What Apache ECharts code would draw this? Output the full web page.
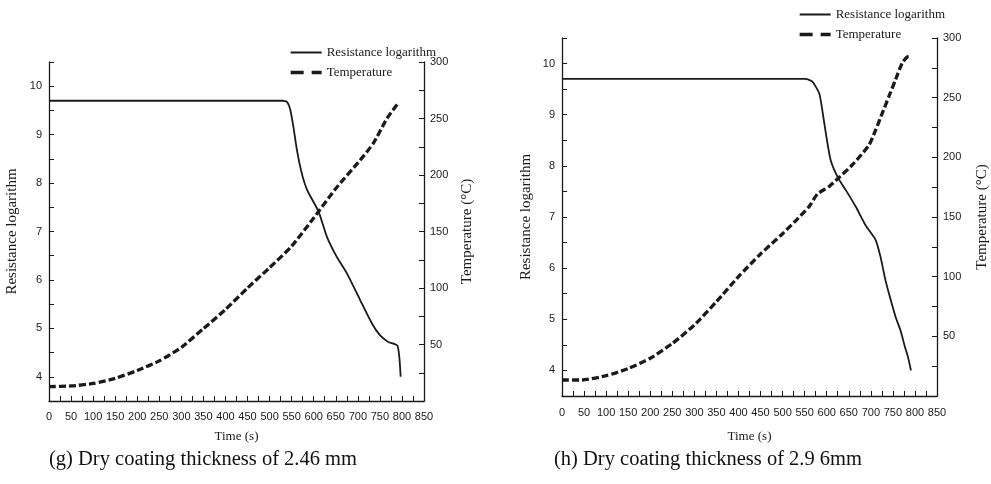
<!DOCTYPE html>
<html>
<head>
<meta charset="utf-8">
<script src="https://cdn.jsdelivr.net/npm/echarts@6/dist/echarts.min.js"></script>
<style>
html, body { margin: 0; padding: 0; background: #fff; }
#main { width: 991px; height: 484px; }
</style>
</head>
<body>
<div id="main"></div>
<script>
// (g) dry coating thickness 2.46 mm
var timeResG = [0, 530, 540, 547, 554, 562, 573, 585, 611, 630, 652, 675, 705, 732, 750, 769, 790, 797];
var resG = [9.7, 9.7, 9.67, 9.51, 9.16, 8.68, 8.2, 7.86, 7.41, 6.89, 6.48, 6.14, 5.59, 5.1, 4.86, 4.72, 4.64, 4.0];
var timeTempG = [0, 50, 100, 150, 200, 250, 300, 350, 400, 450, 500, 550, 600, 650, 705, 735, 766, 792];
var tempG = [12.7, 13.3, 15.5, 20, 27, 35.5, 47.5, 64, 81, 100, 118, 137, 162, 188, 213, 228, 250, 264];

// (h) dry coating thickness 2.96 mm
var timeResH = [0, 552, 567, 583, 590, 598, 609, 626, 643, 666, 688, 711, 722, 733, 745, 756, 767, 777, 784, 791];
var resH = [9.7, 9.7, 9.65, 9.42, 9.09, 8.64, 8.11, 7.76, 7.53, 7.2, 6.84, 6.55, 6.22, 5.77, 5.38, 5.05, 4.79, 4.47, 4.27, 4.0];
var timeTempH = [0, 45, 100, 150, 200, 250, 300, 350, 400, 450, 500, 530, 560, 579, 605, 626, 658, 696, 711, 726, 741, 756, 771, 782, 790];
var tempH = [13.4, 13.4, 17, 23, 31.6, 44, 59.5, 79, 100, 119, 136, 147, 158.7, 169.3, 175.4, 182.5, 193.6, 210.4, 223, 237, 251, 265, 279, 284, 284.4];

var legendNames = ['Resistance logarithm', 'Temperature'];
var captions = ['(g) Dry coating thickness of 2.46 mm', '(h) Dry coating thickness of 2.9 6mm'];

var ink = '#1a1a1a';
var sans = 'Liberation Sans';
var serif = 'Liberation Serif';

function pairs(xs, ys) {
    var out = [];
    for (var i = 0; i < xs.length; i++) {
        out.push([xs[i], ys[i]]);
    }
    return out;
}

function xAxisFor(gridIndex, labelMargin, nameGap) {
    return {
        type: 'value',
        gridIndex: gridIndex,
        min: 0,
        max: 850,
        interval: 25,
        name: 'Time (s)',
        nameLocation: 'middle',
        nameGap: nameGap,
        nameTextStyle: { fontFamily: serif, fontSize: 13, color: ink },
        axisLine: { lineStyle: { color: ink, width: 1.3 } },
        axisTick: { inside: true, length: 5, lineStyle: { color: ink } },
        axisLabel: {
            margin: labelMargin,
            fontFamily: sans,
            fontSize: 11,
            color: ink,
            formatter: function(v) { return v % 50 === 0 ? v : ''; }
        },
        splitLine: { show: false }
    };
}

function resAxisFor(gridIndex, nameGap) {
    return {
        type: 'value',
        gridIndex: gridIndex,
        position: 'left',
        min: 3.5,
        max: 10.5,
        interval: 0.5,
        name: 'Resistance logarithm',
        nameLocation: 'middle',
        nameRotate: 90,
        nameGap: nameGap,
        nameTextStyle: { fontFamily: serif, fontSize: 15, color: ink },
        axisLine: { show: true, lineStyle: { color: ink, width: 1.3 } },
        axisTick: { show: true, inside: true, length: 5, lineStyle: { color: ink } },
        axisLabel: {
            margin: 7,
            fontFamily: sans,
            fontSize: 11,
            color: ink,
            formatter: function(v) { return Math.abs(v % 1) < 1e-6 ? Math.round(v) : ''; }
        },
        splitLine: { show: false }
    };
}

function tempAxisFor(gridIndex, nameGap) {
    return {
        type: 'value',
        gridIndex: gridIndex,
        position: 'right',
        min: 0,
        max: 300,
        interval: 25,
        name: 'Temperature (\u00b0C)',
        nameLocation: 'middle',
        nameRotate: 90,
        nameGap: nameGap,
        nameTextStyle: { fontFamily: serif, fontSize: 15, color: ink },
        axisLine: { show: true, lineStyle: { color: ink, width: 1.3 } },
        axisTick: { show: true, inside: true, length: 5, lineStyle: { color: ink } },
        axisLabel: {
            margin: 6,
            fontFamily: sans,
            fontSize: 11,
            color: ink,
            formatter: function(v) { return (v > 0 && v % 50 === 0) ? v : ''; }
        },
        splitLine: { show: false }
    };
}

function resSeries(xi, yi, data) {
    return {
        name: legendNames[0],
        type: 'line',
        xAxisIndex: xi,
        yAxisIndex: yi,
        data: data,
        symbol: 'none',
        smooth: 0.2,
        lineStyle: { color: ink, width: 1.8 },
        itemStyle: { color: ink }
    };
}

function tempSeries(xi, yi, data) {
    return {
        name: legendNames[1],
        type: 'line',
        xAxisIndex: xi,
        yAxisIndex: yi,
        data: data,
        symbol: 'none',
        smooth: 0.2,
        lineStyle: { color: ink, width: 3.3, type: [7, 3] },
        itemStyle: { color: ink }
    };
}

function legendAt(left, top) {
    var hidden = { color: 'rgba(0,0,0,0)', borderColor: 'rgba(0,0,0,0)', borderWidth: 0 };
    return {
        orient: 'vertical',
        left: left,
        top: top,
        itemWidth: 31,
        itemHeight: 14,
        itemGap: 7,
        selectedMode: false,
        textStyle: { fontFamily: serif, fontSize: 13, color: ink },
        data: [
            { name: legendNames[0], itemStyle: hidden, lineStyle: { width: 2 } },
            { name: legendNames[1], itemStyle: hidden, lineStyle: { width: 3.3, type: [13, 8] } }
        ]
    };
}

var dom = document.getElementById('main');
var myChart = echarts.init(dom);
var option = {
    animation: false,
    backgroundColor: '#fff',
    legend: [legendAt(284, 41), legendAt(793, 3)],
    grid: [
        { left: 49, top: 62, width: 375, height: 339 },
        { left: 562, top: 38, width: 375, height: 358 }
    ],
    xAxis: [xAxisFor(0, 10, 29), xAxisFor(1, 11, 34)],
    yAxis: [resAxisFor(0, 29), tempAxisFor(0, 36), resAxisFor(1, 28), tempAxisFor(1, 38)],
    series: [
        resSeries(0, 0, pairs(timeResG, resG)),
        tempSeries(0, 1, pairs(timeTempG, tempG)),
        resSeries(1, 2, pairs(timeResH, resH)),
        tempSeries(1, 3, pairs(timeTempH, tempH))
    ],
    graphic: [
        {
            type: 'text', x: 203, y: 460,
            style: { text: captions[0], font: '20.5px "Liberation Serif"', fill: '#111', align: 'center', verticalAlign: 'middle' }
        },
        {
            type: 'text', x: 708, y: 460,
            style: { text: captions[1], font: '20.5px "Liberation Serif"', fill: '#111', align: 'center', verticalAlign: 'middle' }
        }
    ]
};
myChart.setOption(option, true);
</script>
</body>
</html>
